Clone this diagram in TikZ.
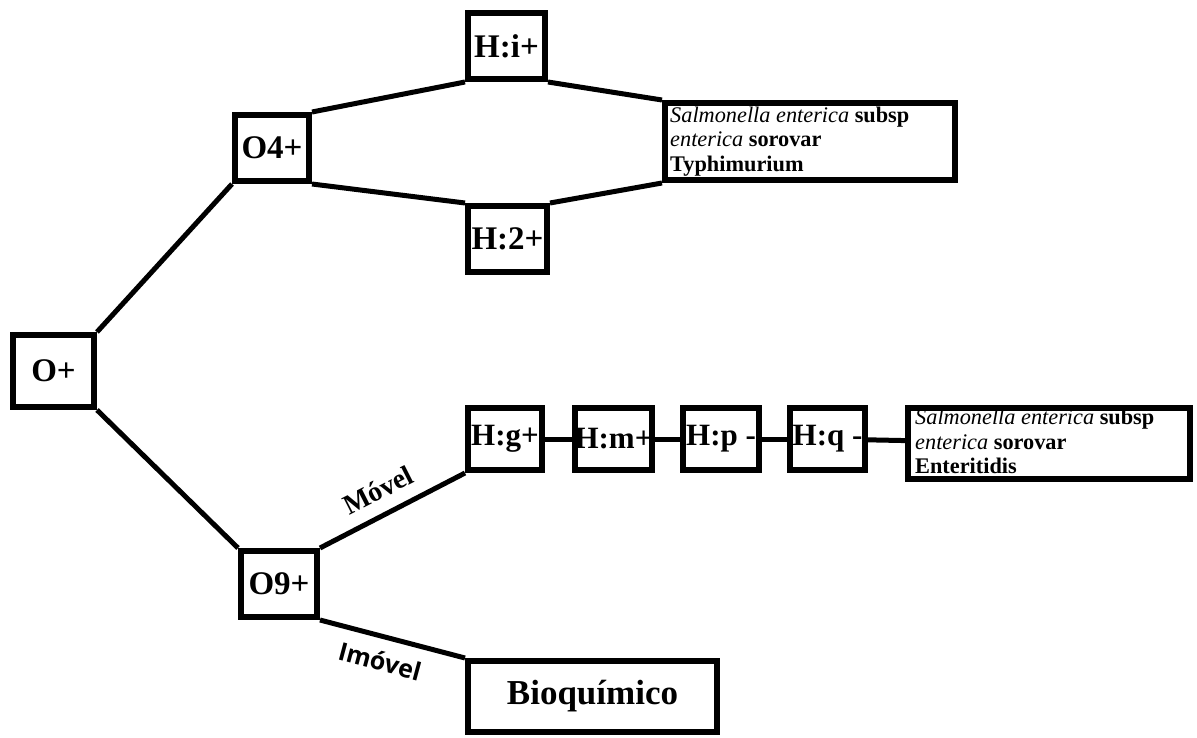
\documentclass[tikz,border=0pt]{standalone}
\usepackage{fontspec}
\setmainfont{Liberation Serif}
\newfontfamily\lblsans{Open Sans}
\begin{document}
\begin{tikzpicture}[x=1pt,y=-1pt,
  box/.style={draw=black,line width=6pt,inner sep=0pt,font=\fontsize{33}{35}\selectfont\bfseries},
  hbox/.style={box,minimum height=62pt,font=\fontsize{31}{33}\selectfont\bfseries},
  sbox/.style={draw=black,line width=6pt,inner sep=0pt},
  stext/.style={inner sep=0pt,anchor=north west,align=left,font=\fontsize{22.3}{24.6}\selectfont\bfseries},
  conn/.style={line width=5pt},
  lbl/.style={inner sep=0pt,font=\fontsize{28}{30}\selectfont\bfseries},
  lbls/.style={inner sep=0pt,font=\lblsans\fontsize{25}{27}\selectfont\bfseries}]
\useasboundingbox (0,0) rectangle (1197,738);
\node[box,minimum width=81pt,minimum height=72pt] (O) at (53.5,371) {O+};
\node[box,minimum width=74pt,minimum height=66pt] (O4) at (272,148) {O4+};
\node[box,minimum width=77pt,minimum height=66pt] (Hi) at (506.5,46) {H:i+};
\node[box,minimum width=79pt,minimum height=66pt] (H2) at (507.5,239) {H:2+};
\node[sbox,minimum width=290pt,minimum height=77pt] (Ty) at (810,141.5) {};
\node[stext] (TyT) at (670,106.5) {\textmd{\textit{Salmonella enterica}} subsp\\\textmd{\textit{enterica}} sorovar\\Typhimurium};
\node[box,minimum width=76pt,minimum height=66pt] (O9) at (279,584) {O9+};
\node[hbox,minimum width=74pt] (Hg) at (505,439) {H:g+};
\node[hbox,minimum width=77pt] (Hm) at (613.5,439) {H:m+};
\node[hbox,minimum width=76pt] (Hp) at (721,439) {H:p -};
\node[hbox,minimum width=75pt] (Hq) at (827.5,439) {H:q -};
\node[sbox,minimum width=282pt,minimum height=71pt] (En) at (1049,443.5) {};
\node[stext] (EnT) at (915,409) {\textmd{\textit{Salmonella enterica}} subsp\\\textmd{\textit{enterica}} sorovar\\Enteritidis};
\node[box,minimum width=249pt,minimum height=71pt,font=\fontsize{35}{37}\selectfont\bfseries] (Bio) at (592.5,696.5) {Bioquímico};
\draw[conn] (O.north east) -- (O4.south west);
\draw[conn] (O.south east) -- (O9.north west);
\draw[conn] (O4.north east) -- (Hi.south west);
\draw[conn] (O4.south east) -- (H2.north west);
\draw[conn] (Hi.south east) -- (Ty.north west);
\draw[conn] (H2.north east) -- (Ty.south west);
\draw[conn] (O9.north east) -- (Hg.south west);
\draw[conn] (O9.south east) -- (Bio.north west);
\node[lbl,rotate=27] (mv) at (378,490) {Móvel};
\node[lbls,rotate=-15] (imv) at (380,661) {Imóvel};
\draw[conn] (Hg) -- (Hm);
\draw[conn] (Hm) -- (Hp);
\draw[conn] (Hp) -- (Hq);
\draw[conn] (Hq) -- (En);
\end{tikzpicture}
\end{document}
